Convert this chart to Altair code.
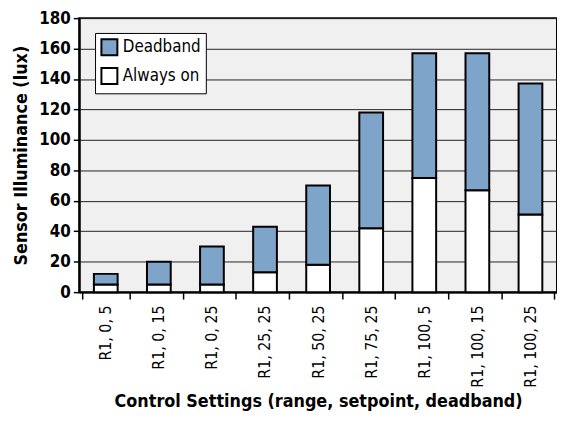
import altair as alt
import pandas as pd

categories = ["R1, 0, 5", "R1, 0, 15", "R1, 0, 25", "R1, 25, 25", "R1, 50, 25",
              "R1, 75, 25", "R1, 100, 5", "R1, 100, 15", "R1, 100, 25"]
always_on = [5, 5, 5, 13, 18, 42, 75, 67, 51]
deadband = [7, 15, 25, 30, 52, 76, 82, 90, 86]
series = ["Deadband", "Always on"]
colors = ["#7fa4c9", "#ffffff"]

rows = []
for c, a, d in zip(categories, always_on, deadband):
    rows.append({"cat": c, "series": "Always on", "value": a, "ord": 0})
    rows.append({"cat": c, "series": "Deadband", "value": d, "ord": 1})
df = pd.DataFrame(rows)

FONT = "DejaVu Sans Condensed"

chart = alt.Chart(df).mark_bar(size=24, stroke="black", strokeWidth=2).encode(
    x=alt.X("cat:N", sort=categories,
            title="Control Settings (range, setpoint, deadband)",
            axis=alt.Axis(labelAngle=270, tickBand="extent", labelFontSize=16,
                          labelFont=FONT, labelColor="black", titleFont=FONT,
                          titleFontSize=18, titleFontWeight="bold", titleColor="black",
                          domainColor="black", domainWidth=2, tickColor="black",
                          tickWidth=1.5, tickSize=7, labelPadding=6, titlePadding=5,
                          grid=False)),
    y=alt.Y("value:Q", stack="zero", title="Sensor Illuminance (lux)",
            scale=alt.Scale(domain=[0, 180]),
            axis=alt.Axis(values=list(range(0, 181, 20)), labelFontSize=17,
                          labelFont=FONT, labelFontWeight="bold", labelColor="black",
                          titleFont=FONT, titleFontSize=18, titleFontWeight="bold",
                          titleColor="black", domainColor="black", domainWidth=2,
                          tickColor="black", tickWidth=1.5, tickSize=6,
                          gridColor="#222222", gridWidth=1, gridOpacity=1,
                          labelPadding=3, titlePadding=8)),
    color=alt.Color("series:N", scale=alt.Scale(domain=series, range=colors),
                    legend=alt.Legend(title=None, orient="none", legendX=16, legendY=15,
                                      fillColor="white", strokeColor="black",
                                      padding=5, symbolType="square", symbolSize=260,
                                      symbolStrokeColor="black", symbolStrokeWidth=2,
                                      labelFont=FONT, labelFontSize=17,
                                      labelColor="black", rowPadding=4)),
    order=alt.Order("ord:Q"),
).properties(
    width=483, height=277,
    background="white",
    padding={"left": 72, "top": 8, "right": 0, "bottom": 126},
    autosize=alt.AutoSizeParams(type="none"),
).configure_view(
    fill="#f0f0f0", stroke="black", strokeWidth=2
)

chart.save("out.html", embed_options={"renderer": "svg", "actions": False})
